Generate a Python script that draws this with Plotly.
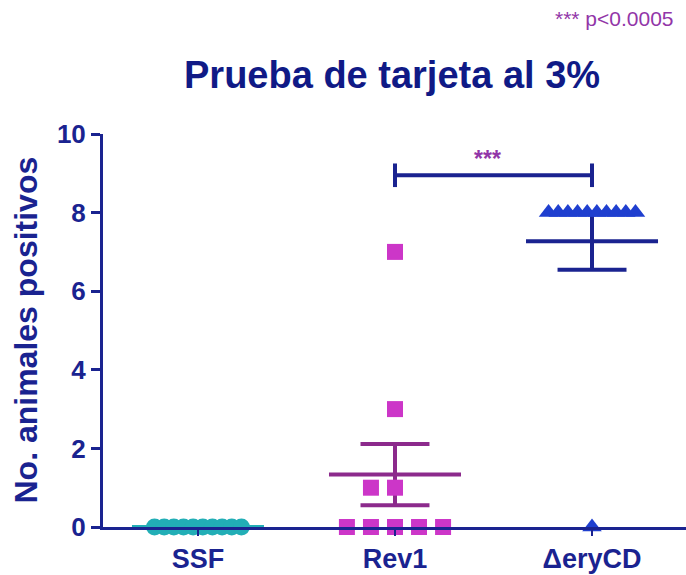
import numpy as np
import plotly.graph_objects as go

# ---- data ----
categories = ["SSF", "Rev1", "ΔeryCD"]
ssf_values = [0, 0, 0, 0, 0, 0, 0, 0, 0, 0]
rev1_values = [0, 0, 0, 0, 0, 1, 1, 3, 7]
erycd_values = [8, 8, 8, 8, 8, 8, 8, 8, 8, 8, 0]
y_ticks = [0, 2, 4, 6, 8, 10]
sig_label = "***"
p_note = "*** p<0.0005"
title_text = "Prueba de tarjeta al 3%"
y_title = "No. animales positivos"

NAVY = "#1a2390"
TEAL = "#22aeb6"
MAGENTA = "#cc36c8"
PURPLE_LINE = "#8c2a8c"
BLUE_TRI = "#1f3fcf"
TXT_PURPLE = "#9236a8"


def swarm_offsets(values, step):
    values = np.asarray(values, dtype=float)
    off = np.zeros(len(values))
    for v in np.unique(values):
        idx = np.where(values == v)[0]
        n = len(idx)
        if n % 2 == 0 and n <= 4:
            slots = np.arange(n) - n // 2
        else:
            slots = np.arange(n) - (n - 1) / 2
        off[idx] = slots * step
    return off


series = [
    (ssf_values, TEAL, TEAL, "circle", 17, 0.049),
    (rev1_values, MAGENTA, PURPLE_LINE, "square", 16, 0.122),
    (erycd_values, BLUE_TRI, NAVY, "triangle-up", 17, 0.049),
]

fig = go.Figure()
mean_half = 0.335
cap_half = 0.175
for i, (vals, mcol, lcol, sym, size, step) in enumerate(series):
    arr = np.asarray(vals, dtype=float)
    m = arr.mean()
    sem = arr.std(ddof=1) / np.sqrt(len(arr))
    fig.add_trace(go.Scatter(x=[i - mean_half, i + mean_half], y=[m, m], mode="lines",
                             line=dict(color=lcol, width=4), cliponaxis=False,
                             hoverinfo="skip", showlegend=False))
    if sem > 0:
        fig.add_trace(go.Scatter(x=[i, i, None, i - cap_half, i + cap_half, None,
                                    i - cap_half, i + cap_half],
                                 y=[m - sem, m + sem, None, m - sem, m - sem, None,
                                    m + sem, m + sem],
                                 mode="lines", line=dict(color=lcol, width=4),
                                 cliponaxis=False, hoverinfo="skip", showlegend=False))
for i, (vals, mcol, lcol, sym, size, step) in enumerate(series):
    xs = i + swarm_offsets(vals, step)
    fig.add_trace(go.Scatter(x=xs, y=vals, mode="markers", cliponaxis=False,
                             marker=dict(symbol=sym, size=size, color=mcol,
                                         line=dict(width=0)),
                             showlegend=False, name=categories[i]))

# significance bracket between Rev1 and ΔeryCD
by = 8.95
fig.add_trace(go.Scatter(x=[1, 2, None, 1, 1, None, 2, 2],
                         y=[by, by, None, by - 0.3, by + 0.3, None, by - 0.3, by + 0.3],
                         mode="lines", line=dict(color=NAVY, width=4),
                         cliponaxis=False, hoverinfo="skip", showlegend=False))
fig.add_annotation(x=1.47, y=by + 0.02, text=sig_label, showarrow=False, yanchor="bottom",
                   font=dict(family="Liberation Sans", size=23, color=TXT_PURPLE, weight="bold"))

W, H = 686, 575
L, R, T, B = 103, 0, 134, 48
fig.update_layout(
    width=W, height=H, margin=dict(l=L, r=R, t=T, b=B),
    plot_bgcolor="white", paper_bgcolor="white", showlegend=False,
)
fig.update_xaxes(range=[-0.482, 2.477], tickvals=[0, 1, 2], ticktext=categories,
                 showgrid=False, zeroline=False, showline=True, linecolor=NAVY, linewidth=3,
                 ticks="outside", ticklen=6, tickwidth=2, tickcolor=NAVY,
                 tickfont=dict(family="Liberation Sans", size=27, color=NAVY, weight="bold"))
fig.update_yaxes(range=[0, 10], tickvals=y_ticks, showgrid=False, zeroline=False,
                 showline=True, linecolor=NAVY, linewidth=3,
                 ticks="outside", ticklen=9, tickwidth=3, tickcolor=NAVY,
                 tickfont=dict(family="Liberation Sans", size=26, color=NAVY, weight="bold"))

fig.add_annotation(xref="paper", yref="paper", x=(25 - L) / (W - L - R), y=0.5,
                   text=y_title, textangle=-90, showarrow=False,
                   xanchor="center", yanchor="middle",
                   font=dict(family="Liberation Sans", size=32, color=NAVY, weight="bold"))
fig.add_annotation(xref="paper", yref="paper", x=(391.5 - L) / (W - L - R),
                   y=1 + (T - 75) / (H - T - B), text=title_text, showarrow=False,
                   xanchor="center", yanchor="middle",
                   font=dict(family="Liberation Sans", size=38, color="#101a86", weight="bold"))
fig.add_annotation(xref="paper", yref="paper", x=(676 - L) / (W - L - R),
                   y=1 + (T - 18) / (H - T - B), text=p_note, showarrow=False,
                   xanchor="right", yanchor="middle",
                   font=dict(family="Liberation Sans", size=21, color=TXT_PURPLE))

fig.write_html("out.html", config={"displayModeBar": False},
               post_script="document.body.style.margin='0px';")
